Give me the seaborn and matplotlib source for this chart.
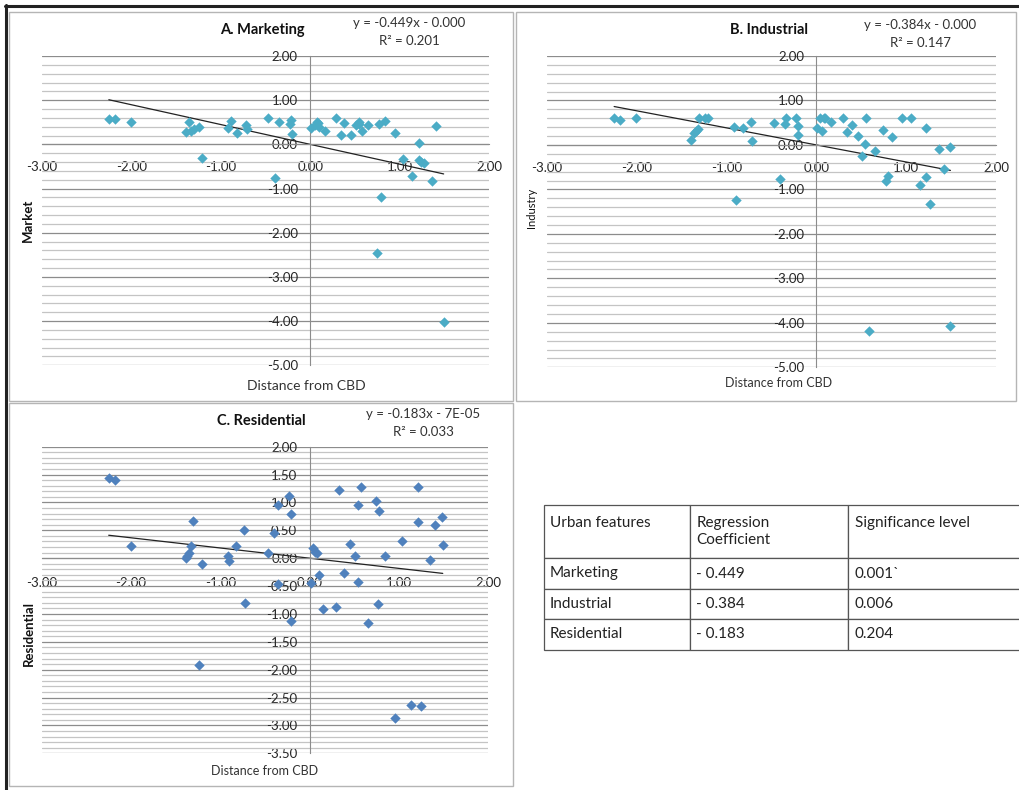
import matplotlib
matplotlib.use("Agg")
import matplotlib.pyplot as plt
import seaborn as sns
import numpy as np
import pandas as pd
from matplotlib.patches import Rectangle
from matplotlib.lines import Line2D
from matplotlib.ticker import MultipleLocator

# ---- data (standardised scores) ----
market_x = [-2.25, -2.18, -2.00, -1.39, -1.35, -1.33, -1.30, -1.24, -1.21, -0.92,
            -0.89, -0.82, -0.72, -0.71, -0.47, -0.39, -0.35, -0.23, -0.21, -0.20,
            0.01, 0.05, 0.07, 0.09, 0.10, 0.16, 0.29, 0.34, 0.38, 0.46,
            0.51, 0.54, 0.55, 0.58, 0.65, 0.74, 0.77, 0.79, 0.84, 0.95,
            1.04, 1.14, 1.21, 1.21, 1.24, 1.27, 1.36, 1.41, 1.49]
market_y = [0.57, 0.57, 0.50, 0.29, 0.51, 0.31, 0.34, 0.39, -0.31, 0.37,
            0.54, 0.26, 0.43, 0.34, 0.60, -0.75, 0.51, 0.46, 0.55, 0.23,
            0.36, 0.44, 0.51, 0.49, 0.40, 0.30, 0.60, 0.22, 0.48, 0.22,
            0.44, 0.51, 0.47, 0.30, 0.44, -2.46, 0.45, -1.18, 0.54, 0.26,
            -0.33, -0.72, 0.04, -0.35, -0.39, -0.43, -0.83, 0.42, -4.01]

industry_x = [-2.25, -2.19, -2.01, -1.39, -1.36, -1.34, -1.32, -1.31, -1.24, -1.21,
              -0.92, -0.89, -0.82, -0.73, -0.72, -0.47, -0.40, -0.35, -0.34, -0.23,
              -0.21, -0.20, 0.01, 0.04, 0.06, 0.08, 0.10, 0.16, 0.30, 0.34,
              0.39, 0.46, 0.51, 0.54, 0.55, 0.58, 0.65, 0.74, 0.77, 0.80,
              0.84, 0.95, 1.05, 1.15, 1.22, 1.22, 1.26, 1.36, 1.42, 1.48, 1.49]
industry_y = [0.61, 0.56, 0.61, 0.11, 0.26, 0.32, 0.35, 0.61, 0.61, 0.61,
              0.40, -1.24, 0.38, 0.52, 0.09, 0.50, -0.76, 0.46, 0.61, 0.61,
              0.42, 0.23, 0.37, 0.61, 0.31, 0.61, 0.61, 0.51, 0.61, 0.28,
              0.44, 0.20, -0.25, 0.03, 0.61, -4.19, -0.14, 0.34, -0.82, -0.70,
              0.17, 0.61, 0.61, -0.90, 0.39, -0.72, -1.33, -0.08, -0.53, -4.07, -0.04]

resid_x = [-2.25, -2.18, -2.00, -1.39, -1.37, -1.35, -1.33, -1.31, -1.24, -1.21,
           -0.91, -0.90, -0.82, -0.73, -0.72, -0.47, -0.40, -0.36, -0.35, -0.23,
           -0.21, -0.21, 0.01, 0.04, 0.06, 0.08, 0.10, 0.15, 0.29, 0.33,
           0.38, 0.45, 0.51, 0.54, 0.54, 0.57, 0.65, 0.74, 0.76, 0.78,
           0.84, 0.95, 1.03, 1.13, 1.21, 1.21, 1.25, 1.35, 1.40, 1.48, 1.49]
resid_y = [1.43, 1.41, 0.22, 0.00, 0.04, 0.09, 0.22, 0.66, -1.92, -0.10,
           0.04, -0.05, 0.22, 0.50, -0.80, 0.09, 0.46, 0.96, -0.46, 1.11,
           -1.13, 0.79, -0.44, 0.18, 0.11, 0.09, -0.30, -0.92, -0.88, 1.23,
           -0.26, 0.25, 0.04, 0.95, -0.42, 1.28, -1.16, 1.03, -0.82, 0.84,
           0.04, -2.87, 0.30, -2.64, 1.28, 0.65, -2.66, -0.03, 0.60, 0.74, 0.24]

titles = ["A. Marketing", "B. Industrial", "C. Residential"]
ylabels = ["Market", "Industry", "Residential"]
slopes = [-0.449, -0.384, -0.183]
intercepts = [0.0, 0.0, -7e-05]
equations = ["y = -0.449x - 0.000", "y = -0.384x - 0.000", "y = -0.183x - 7E-05"]
r2_labels = ["R\u00b2 = 0.201", "R\u00b2 = 0.147", "R\u00b2 = 0.033"]

table_header = ["Urban features\n", "Regression\nCoefficient", "Significance level\n"]
table_features = ["Marketing", "Industrial", "Residential"]
table_coef = ["- 0.449", "- 0.384", "- 0.183"]
table_sig = ["0.001`", "0.006", "0.204"]

sns.set_style("white")
plt.rcParams['font.family'] = ['Lato', 'DejaVu Sans']

W, H = 1020, 790
fig = plt.figure(figsize=(W / 100, H / 100), dpi=100)


def fx(px):
    return px / W


def fy(py):
    return 1 - py / H


def make_ax(left, right, top, bottom):
    return fig.add_axes([fx(left), fy(bottom), fx(right - left), (bottom - top) / H])


# outer black frame (top and left) and panel borders
fig.add_artist(Line2D([fx(5), fx(1020)], [fy(6), fy(6)], color='#222222', lw=2.2))
fig.add_artist(Line2D([fx(6), fx(6)], [fy(5), fy(790)], color='#222222', lw=2.2))
for (l, t, r, b) in [(9, 12, 513, 401), (516, 12, 1016, 401), (9, 403, 513, 786)]:
    fig.add_artist(Rectangle((fx(l), fy(b)), fx(r - l), (b - t) / H, fill=False,
                             edgecolor='#b5b5b5', lw=1.0))

panels = [
    dict(x=market_x, y=market_y, box=(41.7, 489.3, 56, 365.3), ylim=(-5, 2), major=1.0,
         minor=0.2, color='#4bacc6', title=(262, 30), eq=(409, 23), xl=(306, 386),
         yl=(28, 220), ylw='bold', yls=9.5, xpad=9),
    dict(x=industry_x, y=industry_y, box=(546.7, 996.3, 56, 367.3), ylim=(-5, 2), major=1.0,
         minor=0.2, color='#4bacc6', title=(769, 30), eq=(920, 25), xl=(779, 383),
         yl=(532, 208), ylw='normal', yls=8, xpad=9),
    dict(x=resid_x, y=resid_y, box=(41.7, 488.3, 446.7, 753.3), ylim=(-3.5, 2), major=0.5,
         minor=0.1, color='#4f81bd', title=(261, 421), eq=(423, 414), xl=(265, 771),
         yl=(29, 633), ylw='bold', yls=9.5, xpad=10.5),
]

for i, p in enumerate(panels):
    ax = make_ax(*p['box'])
    df = pd.DataFrame({'x': p['x'], 'y': p['y']})
    ax.set_xlim(-3, 2)
    ax.set_ylim(*p['ylim'])
    ax.yaxis.set_major_locator(MultipleLocator(p['major']))
    ax.yaxis.set_minor_locator(MultipleLocator(p['minor']))
    ax.xaxis.set_major_locator(MultipleLocator(1.0))
    ax.grid(which='major', axis='y', color='#8c8c8c', lw=0.9)
    ax.grid(which='minor', axis='y', color='#c4c4c4', lw=0.9)
    ax.set_axisbelow(True)
    for s in ['top', 'right']:
        ax.spines[s].set_visible(False)
    ax.spines['left'].set_position(('data', 0))
    ax.spines['bottom'].set_position(('data', 0))
    ax.spines['left'].set_color('#8c8c8c')
    ax.spines['bottom'].set_color('#8c8c8c')
    ax.tick_params(axis='x', which='major', direction='out', length=3, color='#8c8c8c',
                   pad=p['xpad'], labelsize=9.5, labelcolor='#262626')
    ax.tick_params(axis='y', which='both', length=0, pad=9, labelsize=9.5,
                   labelcolor='#262626')
    ax.xaxis.set_major_formatter(lambda v, pos: f"{v:.2f}")
    ax.yaxis.set_major_formatter(lambda v, pos: f"{v:.2f}")

    xs = np.array([df['x'].min(), df['x'].max()])
    ax.plot(xs, slopes[i] * xs + intercepts[i], color='#222222', lw=0.9, zorder=2)
    sns.scatterplot(data=df, x='x', y='y', marker='D', s=28, color=p['color'],
                    linewidth=0, ax=ax, zorder=3)
    ax.set_xlabel('')
    ax.set_ylabel('')

    fig.text(fx(p['title'][0]), fy(p['title'][1]), titles[i], ha='center', va='center',
             fontsize=10.5, fontweight='bold', color='#111111')
    fig.text(fx(p['eq'][0]), fy(p['eq'][1]), equations[i], ha='center', va='center',
             fontsize=9.5, color='#333333')
    fig.text(fx(p['eq'][0]), fy(p['eq'][1] + 18), r2_labels[i], ha='center', va='center',
             fontsize=9.5, color='#333333')
    fig.text(fx(p['xl'][0]), fy(p['xl'][1]), "Distance from CBD", ha='center', va='center',
             fontsize=10 if i == 0 else 9, color='#333333')
    fig.text(fx(p['yl'][0]), fy(p['yl'][1]), ylabels[i], ha='center', va='center',
             rotation=90, fontsize=p['yls'], fontweight=p['ylw'], color='#111111')

# ---- summary table ----
tax = make_ax(544, 1020, 505, 650)
tax.axis('off')
cells = [[f, c, s] for f, c, s in zip(table_features, table_coef, table_sig)]
tbl = tax.table(cellText=[table_header] + cells, cellLoc='left',
                colWidths=[146 / 476, 158 / 476, 172 / 476], bbox=[0, 0, 1, 1])
tbl.auto_set_font_size(False)
row_h = [53 / 145, 31 / 145, 30 / 145, 31 / 145]
for (r, c), cell in tbl.get_celld().items():
    cell.set_height(row_h[r])
    cell.set_edgecolor('#555555')
    cell.set_linewidth(0.9)
    cell.PAD = 0.04
    cell.get_text().set_fontsize(11)
    cell.get_text().set_color('#222222')
    cell.get_text().set_linespacing(1.3)

fig.savefig("out.png", dpi=100)
